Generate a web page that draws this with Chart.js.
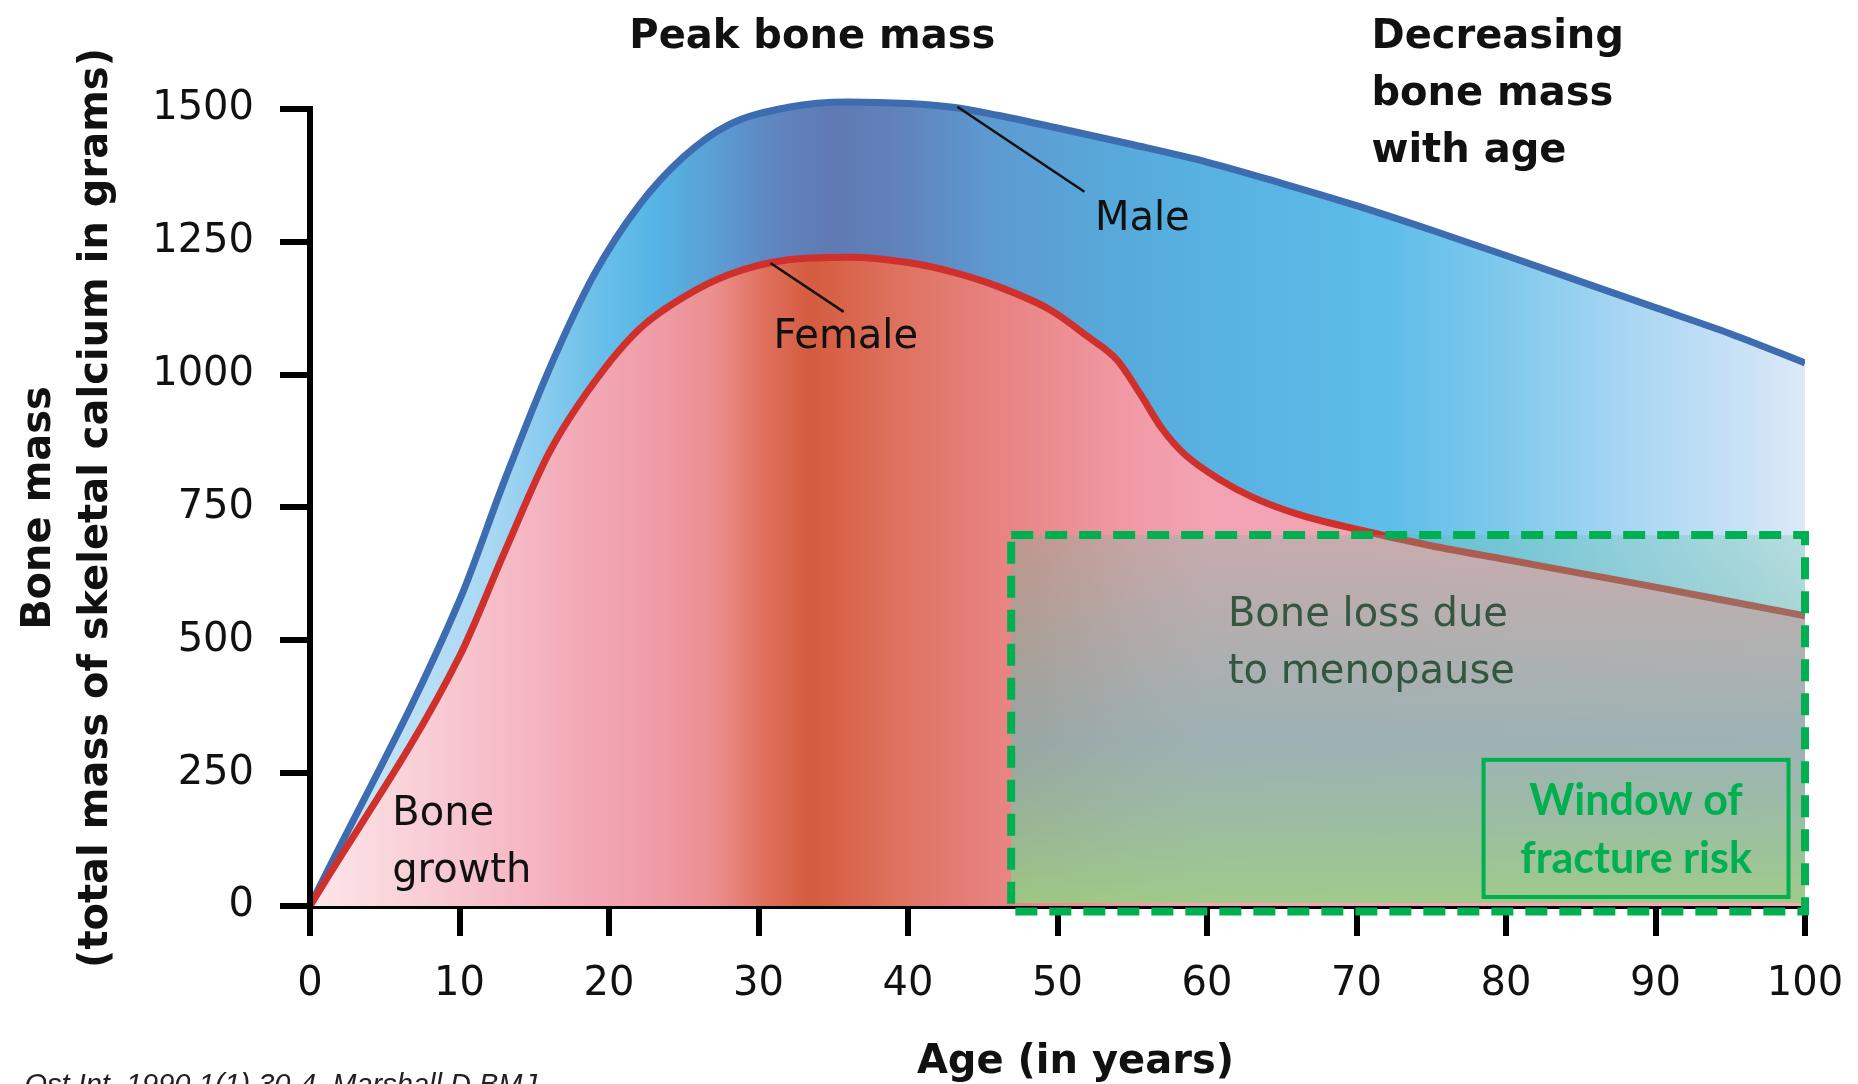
<!DOCTYPE html>
<html>
<head>
<meta charset="utf-8">
<script src="https://cdn.jsdelivr.net/npm/chart.js@4.4.1/dist/chart.umd.min.js"></script>
<style>
  html, body { margin: 0; padding: 0; background: #fff; }
  canvas { display: block; }
</style>
</head>
<body>
<canvas id="boneChart" width="1858" height="1084"></canvas>
<script>
// data (age in years, bone mass in grams of calcium)
const maleAges = [0, 10, 13, 16, 19, 22, 25, 28, 32, 36, 40, 43, 46, 50, 55, 60, 65, 70, 75, 80, 85, 90, 95, 100];
const maleMass = [0, 575, 800, 1010, 1188, 1318, 1410, 1470, 1503, 1513, 1510, 1503, 1488, 1464, 1433, 1400, 1360, 1318, 1272, 1224, 1175, 1126, 1077, 1022];
const femaleAges = [0, 10, 13, 16, 19, 22, 25, 28, 32, 36, 40, 43, 46, 49.5, 52, 54, 55.5, 57, 58.5, 61, 63, 66, 70, 75, 80, 85, 90, 95, 100];
const femaleMass = [0, 470, 665, 853, 985, 1085, 1146, 1188, 1216, 1221, 1211, 1193, 1166, 1122, 1072, 1027, 965, 898, 850, 800, 770, 738, 709, 678, 652, 626, 600, 573, 546];
const ageTicks = [0, 10, 20, 30, 40, 50, 60, 70, 80, 90, 100];
const massTicks = [0, 250, 500, 750, 1000, 1250, 1500];

// shaded zones: [ageFrom, ageTo, massFrom, massTo]
const menopauseZone = [46.9, 100, -10.5, 698];
const fractureZone = [78.5, 98.9, 17, 275];

const FONT = 'DejaVu Sans';

// horizontal colour ramps along the age axis
const maleStops = [[0, '#cfe9f8'], [12, '#a9d8f3'], [19, '#6cc0ea'], [23, '#55b5e6'], [27, '#5a9fd5'],
  [31, '#5f85c0'], [35, '#6079b2'], [39, '#6181ba'], [46, '#5c9bd1'], [57, '#56aedf'], [72, '#5ebde9'],
  [80, '#80c9ed'], [88, '#a8d6f2'], [95, '#c5e0f5'], [100, '#dde9f8']];
const femaleStops = [[0, '#fce6ea'], [6, '#f9d3da'], [12, '#f6bfca'], [18, '#f3a9b7'], [23, '#f09ca8'],
  [27, '#eb8f90'], [30.5, '#df6f5b'], [33.5, '#d45c3f'], [36, '#d9654c'], [40, '#df7464'], [45, '#e6807c'],
  [50, '#ec8d91'], [55, '#f09aa6'], [60, '#f3a3b3'], [100, '#f4a8b7']];

function ageGradient(stops) {
  return (context) => {
    const chart = context.chart;
    if (!chart.chartArea) return null;
    const xs = chart.scales.x;
    const g = chart.ctx.createLinearGradient(xs.getPixelForValue(0), 0, xs.getPixelForValue(100), 0);
    stops.forEach(([a, c]) => g.addColorStop(a / 100, c));
    return g;
  };
}

function toPoints(xs, vals) {
  return xs.map((a, i) => ({ x: a, y: vals[i] }));
}

// text labels placed in data coordinates
const notes = [
  { lines: ['Peak bone mass'], x: 33.6, y: 1635, bold: true, align: 'center' },
  { lines: ['Decreasing', 'bone mass', 'with age'], x: 71.0, y: 1635, bold: true, align: 'left' },
  { lines: ['Male'], x: 52.5, y: 1292, align: 'left' },
  { lines: ['Female'], x: 31.0, y: 1070, align: 'left' },
  { lines: ['Bone', 'growth'], x: 5.5, y: 172, align: 'left' },
  { lines: ['Bone loss due', 'to menopause'], x: 61.4, y: 546, align: 'left', color: 'rgba(30,70,45,0.85)' },
  { lines: ['Age (in years)'], x: 51.2, y: -294, bold: true, align: 'center' }
];
const pointers = [
  [43.3, 1504, 51.8, 1344],
  [30.8, 1210, 35.7, 1118]
];

const notesPlugin = {
  id: 'notes',
  afterDraw(chart) {
    const { ctx } = chart;
    const xs = chart.scales.x, ys = chart.scales.y;
    const px = (v) => xs.getPixelForValue(v);
    const py = (v) => ys.getPixelForValue(v);
    const lh = 57;
    ctx.save();

    // y axis line, stopping at the top tick
    ctx.strokeStyle = '#000';
    ctx.lineWidth = 6;
    ctx.beginPath();
    ctx.moveTo(px(0), py(1500) - 3);
    ctx.lineTo(px(0), py(0) + 3);
    ctx.stroke();

    // menopause overlay
    const [a0, a1, m0, m1] = menopauseZone;
    const g = ctx.createLinearGradient(0, py(m1), 0, py(0));
    g.addColorStop(0, 'rgba(90,190,160,0.28)');
    g.addColorStop(0.55, 'rgba(105,185,180,0.62)');
    g.addColorStop(1, 'rgba(145,210,130,0.85)');
    ctx.fillStyle = g;
    ctx.fillRect(px(a0), py(m1), px(a1) - px(a0), py(0) - 3 - py(m1));

    ctx.strokeStyle = '#00b050';
    ctx.lineWidth = 8;
    ctx.setLineDash([22, 12]);
    ctx.strokeRect(px(a0), py(m1), px(a1) - px(a0), py(m0) - py(m1));
    ctx.setLineDash([]);

    const [f0, f1, n0, n1] = fractureZone;
    ctx.lineWidth = 4;
    ctx.strokeRect(px(f0), py(n1), px(f1) - px(f0), py(n0) - py(n1));

    // pointer lines to the curves
    ctx.strokeStyle = '#111';
    ctx.lineWidth = 2.5;
    pointers.forEach(([xa, ya, xb, yb]) => {
      ctx.beginPath();
      ctx.moveTo(px(xa), py(ya));
      ctx.lineTo(px(xb), py(yb));
      ctx.stroke();
    });

    ctx.textBaseline = 'middle';
    notes.forEach((n) => {
      ctx.font = (n.bold ? 'bold ' : '') + '40px "' + FONT + '"';
      ctx.fillStyle = n.color || '#111';
      ctx.textAlign = n.align;
      n.lines.forEach((t, i) => ctx.fillText(t, px(n.x), py(n.y) + i * lh));
    });

    // window of fracture risk
    ctx.font = 'bold 43px Lato';
    ctx.fillStyle = '#00b050';
    ctx.textAlign = 'center';
    const cx = px((f0 + f1) / 2);
    ctx.fillText('Window of', cx, py(198));
    ctx.fillText('fracture risk', cx, py(88));

    // y axis title, rotated
    ctx.save();
    ctx.translate(px(-18.1), py(749));
    ctx.rotate(-Math.PI / 2);
    ctx.font = 'bold 40px "' + FONT + '"';
    ctx.fillStyle = '#111';
    ctx.textAlign = 'center';
    ctx.fillText('Bone mass', 0, 0);
    ctx.fillText('(total mass of skeletal calcium in grams)', 0, 57);
    ctx.restore();

    // source line, cut by the bottom edge
    ctx.font = 'italic 29px "Liberation Sans"';
    ctx.fillStyle = '#222';
    ctx.textAlign = 'left';
    ctx.textBaseline = 'alphabetic';
    ctx.fillText('Ost Int. 1990 1(1) 30-4. Marshall D BMJ', px(-19.1), py(-354));
    ctx.restore();
  }
};

const ctx = document.getElementById('boneChart').getContext('2d');
new Chart(ctx, {
  type: 'line',
  data: {
    datasets: [
      {
        label: 'Female',
        data: toPoints(femaleAges, femaleMass),
        borderColor: '#d0302b',
        borderWidth: 7,
        backgroundColor: ageGradient(femaleStops),
        fill: 'origin',
        pointRadius: 0,
        cubicInterpolationMode: 'monotone',
        order: 1
      },
      {
        label: 'Male',
        data: toPoints(maleAges, maleMass),
        borderColor: '#3d6cb0',
        borderWidth: 7,
        backgroundColor: ageGradient(maleStops),
        fill: 'origin',
        pointRadius: 0,
        cubicInterpolationMode: 'monotone',
        order: 2
      }
    ]
  },
  options: {
    responsive: false,
    animation: false,
    devicePixelRatio: 1,
    layout: { padding: { left: 0, right: 53, top: 77, bottom: 0 } },
    plugins: { legend: { display: false }, tooltip: { enabled: false } },
    scales: {
      x: {
        type: 'linear',
        min: 0,
        max: 100,
        z: 1,
        afterBuildTicks: (s) => { s.ticks = ageTicks.map((v) => ({ value: v })); },
        afterFit: (s) => { s.height = 178; s.paddingLeft = 0; s.paddingRight = 0; },
        border: { display: true, color: '#000', width: 6 },
        grid: { drawOnChartArea: false, drawTicks: true, tickLength: 30, tickWidth: 6, tickColor: '#000', color: '#000', lineWidth: 6 },
        ticks: { color: '#111', padding: 25, maxRotation: 0, font: { family: FONT, size: 40 }, callback: (v) => String(v) }
      },
      y: {
        min: 0,
        max: 1560,
        z: 1,
        afterBuildTicks: (s) => { s.ticks = massTicks.map((v) => ({ value: v })); },
        afterFit: (s) => { s.width = 310; s.paddingTop = 0; s.paddingBottom = 0; },
        border: { display: false },
        grid: { drawOnChartArea: false, drawTicks: true, tickLength: 30, tickWidth: 6, tickColor: '#000', color: '#000', lineWidth: 6 },
        ticks: { color: '#111', padding: 26, font: { family: FONT, size: 40 }, callback: (v) => String(v) }
      }
    }
  },
  plugins: [notesPlugin]
});
</script>
</body>
</html>
